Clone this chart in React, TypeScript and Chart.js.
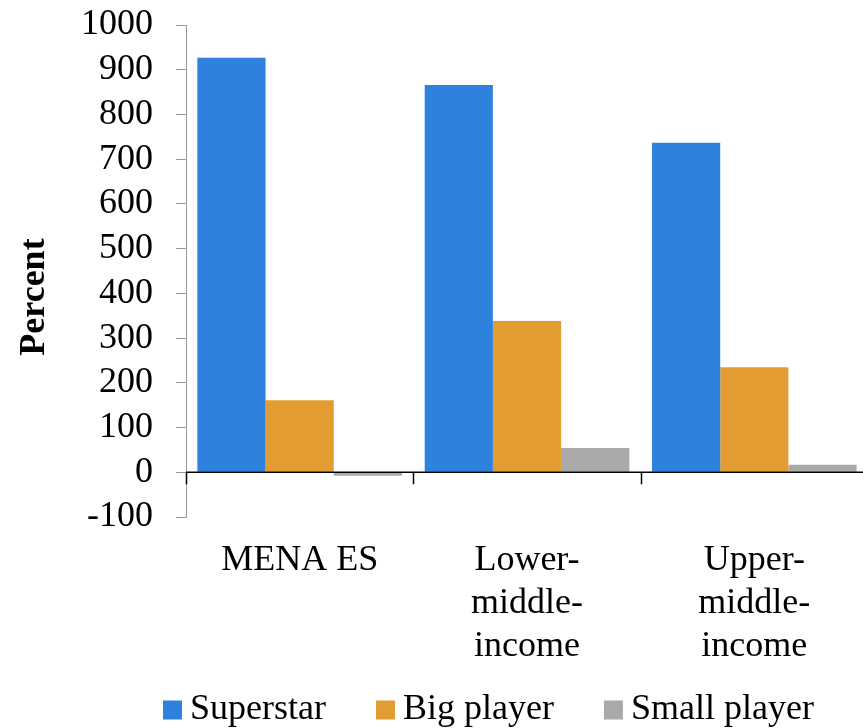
import React, { useEffect, useRef } from "react";
import { Chart, registerables } from "chart.js";

Chart.register(...registerables);

const categories: (string | string[])[] = [
  "MENA ES",
  ["Lower-", "middle-", "income"],
  ["Upper-", "middle-", "income"],
];
const superstar = [927, 866, 737];
const bigPlayer = [161, 338, 235];
const smallPlayer = [-8, 54, 17];
const seriesNames = ["Superstar", "Big player", "Small player"];
const seriesColors = ["#2E82DE", "#E39C31", "#A9A9A9"];

const FONT = "'Liberation Serif', 'Times New Roman', serif";

// Zero baseline and the category ticks hanging below it
const zeroAxisPlugin = {
  id: "zeroAxis",
  afterDatasetsDraw(chart: any) {
    const { ctx, chartArea, scales } = chart;
    const x = scales.x;
    const y0 = scales.y.getPixelForValue(0);
    ctx.save();
    ctx.strokeStyle = "#000";
    ctx.lineWidth = 1.5;
    ctx.beginPath();
    ctx.moveTo(chartArea.left, y0);
    ctx.lineTo(chartArea.right, y0);
    ctx.stroke();
    const n = chart.data.labels.length;
    const step = (x.right - x.left) / n;
    for (let i = 0; i <= n; i++) {
      const px = Math.round(x.left + i * step) + 0.5;
      ctx.beginPath();
      ctx.moveTo(px, y0);
      ctx.lineTo(px, y0 + 12);
      ctx.stroke();
    }
    ctx.restore();
  },
};

// Rotated y-axis title
const yTitlePlugin = {
  id: "yTitle",
  afterDraw(chart: any) {
    const { ctx } = chart;
    ctx.save();
    ctx.translate(35, 297);
    ctx.rotate(-Math.PI / 2);
    ctx.font = `bold 36px ${FONT}`;
    ctx.fillStyle = "#000";
    ctx.textAlign = "center";
    ctx.textBaseline = "middle";
    ctx.fillText("Percent", 0, 0);
    ctx.restore();
  },
};

// Legend row along the bottom
const legendPlugin = {
  id: "bottomLegend",
  afterDraw(chart: any) {
    const { ctx } = chart;
    ctx.save();
    ctx.font = `36px ${FONT}`;
    ctx.textBaseline = "middle";
    ctx.textAlign = "left";
    let cx = 163;
    const cy = 710;
    chart.data.datasets.forEach((ds: any) => {
      ctx.fillStyle = ds.backgroundColor;
      ctx.fillRect(cx, cy - 9.5, 19, 19);
      cx += 19 + 8;
      ctx.fillStyle = "#000";
      ctx.fillText(ds.label, cx, cy);
      cx += ctx.measureText(ds.label).width + 50;
    });
    ctx.restore();
  },
};

export default function App() {
  const canvasRef = useRef<HTMLCanvasElement | null>(null);

  useEffect(() => {
    if (!canvasRef.current) return;
    const values = [superstar, bigPlayer, smallPlayer];
    const chart = new Chart(canvasRef.current, {
      type: "bar",
      data: {
        labels: categories,
        datasets: values.map((v, i) => ({
          label: seriesNames[i],
          data: v,
          backgroundColor: seriesColors[i],
          borderWidth: 0,
          categoryPercentage: 0.9,
          barPercentage: 1.0,
        })),
      },
      options: {
        responsive: false,
        animation: false,
        layout: { padding: { top: 25, left: 0, right: 0, bottom: 0 } },
        plugins: {
          legend: { display: false },
          tooltip: { enabled: false },
        },
        scales: {
          x: {
            offset: true,
            grid: { display: false, drawTicks: false },
            border: { display: false },
            ticks: {
              font: { family: FONT, size: 36, lineHeight: 1.2 },
              color: "#000",
              padding: 22,
              maxRotation: 0,
              autoSkip: false,
            },
            afterFit(scale: any) {
              scale.height = 211;
              scale.paddingLeft = 0;
              scale.paddingRight = 0;
            },
          },
          y: {
            min: -100,
            max: 1000,
            ticks: {
              stepSize: 100,
              autoSkip: false,
              font: { family: FONT, size: 36 },
              color: "#000",
              padding: 23,
              callback: (v: any) => String(v),
            },
            grid: {
              drawOnChartArea: false,
              tickLength: 10,
              tickColor: "#999",
              tickWidth: 1,
            },
            border: { color: "#999", width: 1 },
            afterFit(scale: any) {
              scale.width = 186;
              scale.paddingTop = 0;
              scale.paddingBottom = 0;
            },
          },
        },
      },
      plugins: [zeroAxisPlugin, yTitlePlugin, legendPlugin],
    });
    return () => chart.destroy();
  }, []);

  return (
    <div
      style={{
        position: "absolute",
        left: 0,
        top: 0,
        width: 863,
        height: 728,
        overflow: "hidden",
        background: "#fff",
      }}
    >
      <canvas
        ref={canvasRef}
        width={868}
        height={728}
        style={{ width: 868, height: 728, display: "block" }}
      />
    </div>
  );
}
